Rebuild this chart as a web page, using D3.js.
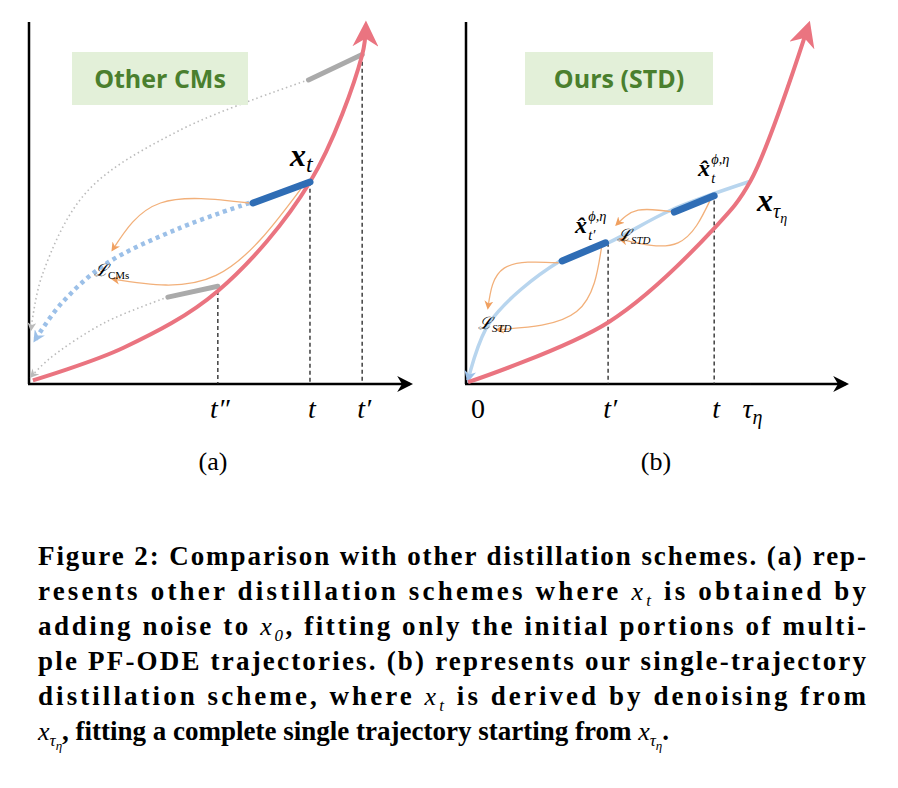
<!DOCTYPE html>
<html><head><meta charset="utf-8">
<script src="https://cdn.jsdelivr.net/npm/d3@7"></script>
<style>body{margin:0;background:#fff}svg{display:block}</style>
</head><body><div id="fig"></div>
<script>
// panel-local points, units: x 0..1 along time axis, y 0..1 up
const redCurveA = [[0.005,0.01],[0.25,0.1],[0.505,0.257],[0.754,0.558],[0.895,0.909],[0.905,0.99]];
const redCurveB = [[0.0,0.005],[0.387,0.17],[0.68,0.43],[0.78,0.56],[0.94,0.99]];
const blueCurveB = [[0.0,0.01],[0.06,0.17],[0.25,0.337],[0.387,0.39],[0.56,0.48],[0.78,0.56]];
const grayTicksA = [{from:[0.37,0.24],to:[0.505,0.27]},{from:[0.75,0.84],to:[0.895,0.91]}];
const dottedA = [
  [[0.37,0.24],[0.2,0.17],[0.05,0.07],[0.0,0.02]],
  [[0.75,0.84],[0.4,0.7],[0.15,0.53],[0.03,0.3],[0.0,0.15]]
];
const blueDotA = [[0.59,0.5],[0.4,0.43],[0.2,0.33],[0.08,0.22],[0.01,0.12]];
const thickA = [[[0.6,0.5],[0.754,0.558]]];
const thickB = [[[0.26,0.34],[0.38,0.39]],[[0.57,0.475],[0.68,0.52]]];
const vlinesA = [0.505,0.754,0.895];
const vlinesB = [0.387,0.68,0.78];
const tickLabelsA = ["t\u2033","t","t\u2032"];
const tickLabelsB = ["0","t\u2032","t","\u03c4"];
const tickPosB = [0.0,0.387,0.68,0.78];
const arcsA = [
  [[0.59,0.5],[0.35,0.5],[0.22,0.37]],
  [[0.73,0.54],[0.5,0.3],[0.22,0.29]]
];
const arcsB = [
  [[0.57,0.475],[0.47,0.48],[0.41,0.44]],
  [[0.67,0.51],[0.58,0.39],[0.42,0.40]],
  [[0.25,0.335],[0.1,0.32],[0.055,0.21]],
  [[0.37,0.385],[0.3,0.2],[0.08,0.15]]
];
const captionLines = [
  [["b","Figure 2: Comparison with other distillation schemes. (a) rep-"]],
  [["b","resents other distillation schemes where "],["m","x"],["s","t"],["b"," is obtained by"]],
  [["b","adding noise to "],["m","x"],["s","0"],["b",", fitting only the initial portions of multi-"]],
  [["b","ple PF-ODE trajectories. (b) represents our single-trajectory"]],
  [["b","distillation scheme, where "],["m","x"],["s","t"],["b"," is derived by denoising from"]],
  [["m","x"],["s","\u03c4"],["b",", fitting a complete single trajectory starting from "],["m","x"],["s","\u03c4"],["b","."]]
];

const W = 898, H = 788;
const svg = d3.select("#fig").append("svg").attr("width", W).attr("height", H)
  .style("font-family", "'Liberation Serif', serif");
const defs = svg.append("defs");
function marker(id, color, size) {
  defs.append("marker").attr("id", id).attr("viewBox", "0 0 10 10").attr("refX", 8).attr("refY", 5)
    .attr("markerWidth", size).attr("markerHeight", size).attr("orient", "auto-start-reverse")
    .attr("markerUnits", "userSpaceOnUse")
    .append("path").attr("d", "M0,0 L10,5 L0,10 L3,5 Z").attr("fill", color);
}
marker("ax", "#000", 16); marker("red", "#ea7480", 26); marker("or", "#f0a060", 9);
marker("bl", "#9cc0e8", 12); marker("gr", "#bbb", 9);

function panel(x0, x1, yTop, yBot, xmax) {
  const x = d3.scaleLinear().domain([0, 1]).range([x0, x1]);
  const y = d3.scaleLinear().domain([0, 1]).range([yBot, yTop]);
  const g = svg.append("g");
  g.append("line").attr("x1", x0 - 2).attr("x2", x0 - 2).attr("y1", 22).attr("y2", yBot).attr("stroke", "#000").attr("stroke-width", 2.5);
  g.append("line").attr("x1", x0 - 3).attr("x2", xmax).attr("y1", yBot).attr("y2", yBot)
    .attr("stroke", "#000").attr("stroke-width", 2.5).attr("marker-end", "url(#ax)");
  const line = d3.line().x(d => x(d[0])).y(d => y(d[1]));
  return {g, x, y, line, yBot};
}

function vlines(p, xs, curve) {
  xs.forEach(v => {
    const path = p.g.append("path").attr("d", p.line.curve(d3.curveCatmullRom)(curve)).attr("fill", "none").node();
    const len = path.getTotalLength(); let yy = p.yBot;
    for (let s = 0; s <= len; s += 0.5) { const q = path.getPointAtLength(s); if (q.x >= p.x(v)) { yy = q.y; break; } }
    path.remove();
    p.g.append("line").attr("x1", p.x(v)).attr("x2", p.x(v)).attr("y1", yy).attr("y2", p.yBot)
      .attr("stroke", "#222").attr("stroke-width", 1.3).attr("stroke-dasharray", "4,3");
  });
}

function box(x, y, w, h, label) {
  svg.append("rect").attr("x", x).attr("y", y).attr("width", w).attr("height", h).attr("fill", "#e3f0d9");
  svg.append("text").attr("x", x + w / 2).attr("y", y + h / 2 + 9).attr("text-anchor", "middle")
    .attr("font-family", "'Open Sans', sans-serif").attr("font-weight", "bold").attr("font-size", 25)
    .attr("fill", "#4a7f2e").text(label);
}

// ---------- panel (a)
const A = panel(31, 401, 22, 384, 410);
box(72, 52, 176, 53, "Other CMs");
vlines(A, vlinesA, redCurveA);
dottedA.forEach(c => A.g.append("path").attr("d", A.line.curve(d3.curveCatmullRom)(c)).attr("fill", "none")
  .attr("stroke", "#bbb").attr("stroke-width", 1.6).attr("stroke-dasharray", "1.5,3").attr("marker-end", "url(#gr)"));
grayTicksA.forEach(s => A.g.append("path").attr("d", A.line.curve(d3.curveLinear)([s.from, s.to]))
  .attr("stroke", "#aaa").attr("stroke-width", 5).attr("stroke-linecap", "round"));
A.g.append("path").attr("d", A.line.curve(d3.curveCatmullRom)(blueDotA)).attr("fill", "none")
  .attr("stroke", "#9cc0e8").attr("stroke-width", 4.5).attr("stroke-dasharray", "4,4").attr("marker-end", "url(#bl)");
arcsA.forEach(c => A.g.append("path").attr("d", A.line.curve(d3.curveNatural)(c)).attr("fill", "none")
  .attr("stroke", "#f2b07a").attr("stroke-width", 1.3).attr("marker-end", "url(#or)"));
A.g.append("path").attr("d", A.line.curve(d3.curveCatmullRom)(redCurveA)).attr("fill", "none")
  .attr("stroke", "#ea7480").attr("stroke-width", 4).attr("marker-end", "url(#red)");
thickA.forEach(s => A.g.append("path").attr("d", A.line.curve(d3.curveLinear)(s))
  .attr("stroke", "#2f6db5").attr("stroke-width", 7).attr("stroke-linecap", "round"));
tickLabelsA.forEach((t, i) => A.g.append("text").attr("x", A.x(vlinesA[i]) + 2).attr("y", 418)
  .attr("text-anchor", "middle").attr("font-style", "italic").attr("font-size", 28).text(t));
A.g.append("text").attr("x", 290).attr("y", 166).attr("font-style", "italic").attr("font-weight", "bold")
  .attr("font-size", 32).text("x").append("tspan").attr("font-size", 24).attr("dy", 6).attr("font-weight", "normal").text("t");
A.g.append("text").attr("x", 94).attr("y", 276).attr("font-style", "italic").attr("font-size", 17).text("\u2112")
  .append("tspan").attr("font-style", "normal").attr("font-size", 11).attr("dy", 3).text("CMs");
svg.append("text").attr("x", 213).attr("y", 470).attr("text-anchor", "middle").attr("font-size", 26).text("(a)");

// ---------- panel (b)
const B = panel(468, 830, 22, 384, 846);
box(525, 52, 188, 53, "Ours (STD)");
vlines(B, vlinesB, blueCurveB);
B.g.append("path").attr("d", B.line.curve(d3.curveCatmullRom)(blueCurveB.slice().reverse())).attr("fill", "none")
  .attr("stroke", "#b8d5ee").attr("stroke-width", 3.5).attr("marker-end", "url(#bl)");
arcsB.forEach(c => B.g.append("path").attr("d", B.line.curve(d3.curveNatural)(c)).attr("fill", "none")
  .attr("stroke", "#f2b07a").attr("stroke-width", 1.3).attr("marker-end", "url(#or)"));
B.g.append("path").attr("d", B.line.curve(d3.curveCatmullRom)(redCurveB)).attr("fill", "none")
  .attr("stroke", "#ea7480").attr("stroke-width", 4).attr("marker-end", "url(#red)");
thickB.forEach(s => B.g.append("path").attr("d", B.line.curve(d3.curveLinear)(s))
  .attr("stroke", "#2f6db5").attr("stroke-width", 7).attr("stroke-linecap", "round"));
tickLabelsB.forEach((t, i) => {
  const tx = B.g.append("text").attr("x", B.x(tickPosB[i]) + (i === 0 ? 10 : 2)).attr("y", 418)
    .attr("text-anchor", "middle").attr("font-style", i === 0 ? "normal" : "italic").attr("font-size", 28).text(t);
  if (i === 3) tx.append("tspan").attr("font-size", 20).attr("dy", 6).text("\u03b7");
});
function hat(x, y, sub, size) {
  B.g.append("text").attr("x", x).attr("y", y).attr("font-style", "italic").attr("font-weight", "bold")
    .attr("font-size", size).text("x\u0302");
  B.g.append("text").attr("x", x + size * 0.55).attr("y", y - size * 0.5).attr("font-style", "italic")
    .attr("font-size", size * 0.6).text("\u03d5,\u03b7");
  B.g.append("text").attr("x", x + size * 0.55).attr("y", y + size * 0.3).attr("font-style", "italic")
    .attr("font-size", size * 0.6).text(sub);
}
hat(698, 176, "t", 24);
hat(575, 233, "t\u2032", 24);
B.g.append("text").attr("x", 757).attr("y", 211).attr("font-style", "italic").attr("font-weight", "bold").attr("font-size", 32).text("x")
  .append("tspan").attr("font-size", 20).attr("dy", 7).attr("font-weight", "normal").text("\u03c4")
  .append("tspan").attr("font-size", 14).attr("dy", 5).text("\u03b7");
[[617, 241], [478, 329]].forEach(p => B.g.append("text").attr("x", p[0]).attr("y", p[1]).attr("font-style", "italic")
  .attr("font-size", 17).text("\u2112").append("tspan").attr("font-size", 11).attr("dy", 3).text("STD"));
svg.append("text").attr("x", 656).attr("y", 470).attr("text-anchor", "middle").attr("font-size", 26).text("(b)");

// ---------- caption
captionLines.forEach((segs, i) => {
  const t = svg.append("text").attr("x", 38).attr("y", 565 + i * 35).attr("font-size", 27).attr("font-weight", "bold");
  const last = i === captionLines.length - 1;
  let off = 0;
  segs.forEach(s => {
    const sp = t.append("tspan").text(s[1]);
    if (s[0] === "b") { sp.attr("dy", off ? -off : null); off = 0; }
    if (s[0] === "m") { sp.attr("font-style", "italic").attr("font-weight", "normal").attr("font-size", 26).attr("dy", off ? -off : null); off = 0; }
    if (s[0] === "s") {
      sp.attr("font-style", "italic").attr("font-weight", "normal").attr("font-size", 17).attr("dy", 6); off = 6;
      if (s[1] === "\u03c4") { t.append("tspan").text("\u03b7").attr("font-size", 13).attr("font-style", "italic").attr("font-weight", "normal").attr("dy", 4); off = 10; }
    }
  });
  if (!last) t.attr("textLength", 828).attr("lengthAdjust", "spacing");
});
</script></body></html>
